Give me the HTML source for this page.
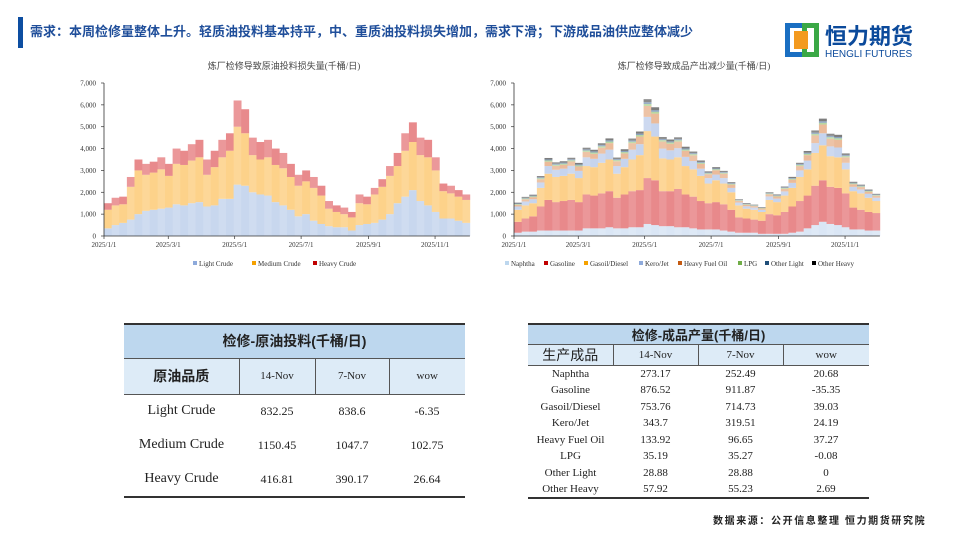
<!DOCTYPE html>
<html><head><meta charset="utf-8">
<style>
*{margin:0;padding:0;box-sizing:border-box}
body{width:960px;height:540px;background:#fff;position:relative;overflow:hidden;font-family:"Liberation Serif","Noto Serif CJK SC",serif}
.cjk{font-family:"Liberation Sans","Noto Sans CJK SC",sans-serif}
#bar{position:absolute;left:18px;top:17px;width:5px;height:31px;background:#0d4ea1}
#title{position:absolute;left:30px;top:21px;font-size:13px;font-weight:bold;color:#1f4e9a;white-space:nowrap}
#logo{position:absolute;left:785px;top:20px;width:150px;height:40px}
table{position:absolute;border-collapse:collapse;text-align:center;color:#222}
td{padding:0}
#t1{left:124px;top:323px;width:341px;border-top:2px solid #333;border-bottom:2px solid #333}
#t2{left:528px;top:323px;width:341px;border-top:2px solid #333;border-bottom:2px solid #333}
.h{background:#bdd7ee;font-weight:bold}
.s{background:#ddebf7}
#foot{position:absolute;left:713px;top:512px;font-size:10px;font-weight:bold;letter-spacing:1.6px;color:#222;white-space:nowrap}
svg text{font-family:"Liberation Serif","Noto Sans CJK SC",serif}
</style></head><body>
<div id="bar"></div>
<div id="title" class="cjk">需求：本周检修量整体上升。轻质油投料基本持平，中、重质油投料损失增加，需求下滑；下游成品油供应整体减少</div>
<svg id="logo" viewBox="0 0 150 40">
<rect x="0" y="3" width="34" height="34" fill="#1a6fc2"/>
<rect x="5" y="8" width="24" height="24" fill="#fff"/>
<rect x="17" y="3" width="17" height="34" fill="#3aa845"/>
<rect x="22" y="8" width="7" height="24" fill="#fff"/>
<rect x="9" y="11" width="14" height="18" fill="#f39a1f"/>
<text x="40" y="24" font-size="22" font-weight="bold" fill="#0b4a9b" style="font-family:'Noto Sans CJK SC',sans-serif">恒力期货</text>
<text x="40" y="37" font-size="10" fill="#0b4a9b" style="font-family:'Liberation Sans',sans-serif">HENGLI FUTURES</text>
</svg>
<svg id="c1" width="960" height="540" style="position:absolute;left:0;top:0"></svg>

<table id="t1">
<tr class="h" style="height:34px"><td colspan="4" class="cjk" style="font-size:14px">检修-原油投料(千桶/日)</td></tr>
<tr class="s" style="height:36px;border-top:1px solid #555;border-bottom:1px solid #555"><td class="cjk" style="width:115px;font-size:14px;font-weight:bold;border-right:1px solid #555">原油品质</td><td style="width:76px;font-size:11px;border-right:1px solid #555">14-Nov</td><td style="width:74px;font-size:11px;border-right:1px solid #555">7-Nov</td><td style="font-size:11px">wow</td></tr>
<tr style="height:34px"><td style="font-size:14px">Light Crude</td><td style="font-size:12px">832.25</td><td style="font-size:12px">838.6</td><td style="font-size:12px">-6.35</td></tr>
<tr style="height:34px"><td style="font-size:14px">Medium Crude</td><td style="font-size:12px">1150.45</td><td style="font-size:12px">1047.7</td><td style="font-size:12px">102.75</td></tr>
<tr style="height:35px"><td style="font-size:14px">Heavy Crude</td><td style="font-size:12px">416.81</td><td style="font-size:12px">390.17</td><td style="font-size:12px">26.64</td></tr>
</table>

<table id="t2">
<tr class="h" style="height:20px"><td colspan="4" class="cjk" style="font-size:13px">检修-成品产量(千桶/日)</td></tr>
<tr class="s" style="height:21px;border-top:1px solid #555;border-bottom:1px solid #555"><td class="cjk" style="width:85px;font-size:14px;border-right:1px solid #555">生产成品</td><td style="width:85px;font-size:11px;border-right:1px solid #555">14-Nov</td><td style="width:85px;font-size:11px;border-right:1px solid #555">7-Nov</td><td style="font-size:11px">wow</td></tr>
<tr style="height:16.5px;font-size:11px"><td>Naphtha</td><td>273.17</td><td>252.49</td><td>20.68</td></tr>
<tr style="height:16.5px;font-size:11px"><td>Gasoline</td><td>876.52</td><td>911.87</td><td>-35.35</td></tr>
<tr style="height:16.5px;font-size:11px"><td>Gasoil/Diesel</td><td>753.76</td><td>714.73</td><td>39.03</td></tr>
<tr style="height:16.5px;font-size:11px"><td>Kero/Jet</td><td>343.7</td><td>319.51</td><td>24.19</td></tr>
<tr style="height:16.5px;font-size:11px"><td>Heavy Fuel Oil</td><td>133.92</td><td>96.65</td><td>37.27</td></tr>
<tr style="height:16.5px;font-size:11px"><td>LPG</td><td>35.19</td><td>35.27</td><td>-0.08</td></tr>
<tr style="height:16.5px;font-size:11px"><td>Other Light</td><td>28.88</td><td>28.88</td><td>0</td></tr>
<tr style="height:16.5px;font-size:11px"><td>Other Heavy</td><td>57.92</td><td>55.23</td><td>2.69</td></tr>
</table>
<div id="foot" class="cjk">数据来源：公开信息整理 恒力期货研究院</div>

<script>
const yTicks=[0,1000,2000,3000,4000,5000,6000,7000];
const yTickLabels=["0","1,000","2,000","3,000","4,000","5,000","6,000","7,000"];
const xTickDays=[0,59,120,181,243,304];
const xTickLabels=["2025/1/1","2025/3/1","2025/5/1","2025/7/1","2025/9/1","2025/11/1"];
const weekDays=[0,7,14,21,28,35,42,49,56,63,70,77,84,91,98,105,112,119,126,133,140,147,154,161,168,175,182,189,196,203,210,217,224,231,238,245,252,259,266,273,280,287,294,301,308,315,322,329];
const lightCrude=[350,500,600,750,1000,1150,1200,1250,1300,1450,1400,1500,1550,1350,1400,1700,1700,2350,2300,2000,1900,1850,1550,1400,1200,900,1000,700,550,450,400,400,250,500,550,600,750,1000,1500,1800,2100,1600,1400,1100,800,800,700,600];
const mediumCrude=[850,900,850,1500,2000,1650,1700,1800,1450,1850,1850,1950,2050,1450,1750,1900,2200,2650,2400,1700,1600,1750,1700,1700,1500,1400,1500,1500,1300,800,700,600,600,1000,900,1300,1500,1750,1700,2100,2200,2100,2200,1900,1250,1150,1100,1050];
const heavyCrude=[300,350,350,450,500,500,500,550,550,700,650,750,800,700,750,800,800,1200,1100,800,800,800,750,700,600,500,500,500,450,350,300,300,250,400,350,300,350,450,600,800,900,800,800,600,350,350,300,250];
const naphtha=[150,200,200,250,250,250,250,250,250,350,350,350,400,350,350,400,400,550,500,450,450,400,400,350,300,300,300,250,200,150,150,150,100,100,100,100,150,200,350,500,650,550,500,400,300,300,250,250];
const gasoline=[500,600,700,1100,1400,1300,1350,1400,1300,1550,1500,1600,1650,1400,1550,1650,1700,2100,2050,1600,1600,1750,1500,1450,1300,1200,1250,1200,1000,700,650,600,600,900,850,1000,1200,1400,1500,1800,1900,1700,1700,1550,1000,900,850,800];
const gasoil=[550,600,600,850,1200,1150,1150,1200,1100,1300,1300,1400,1450,1100,1250,1450,1600,2150,2000,1500,1450,1450,1300,1250,1150,900,1000,950,800,550,450,450,400,650,600,750,850,1100,1200,1500,1600,1400,1400,1100,750,750,650,550];
const kero=[150,180,180,250,350,330,330,360,330,400,380,420,450,350,380,450,500,650,600,450,420,420,420,380,330,250,260,250,200,130,110,100,100,160,160,190,230,300,400,450,550,450,450,300,200,180,180,150];
const hfo=[80,100,100,150,200,180,180,200,200,250,230,270,300,220,250,300,350,500,450,320,300,300,280,260,220,180,200,200,150,80,70,70,60,100,100,120,150,200,250,350,400,350,350,250,120,110,100,90];
const lpg=[30,35,35,45,55,50,50,55,50,60,60,65,70,55,60,65,70,90,85,65,60,60,55,55,50,40,45,40,35,25,25,20,20,30,30,35,40,50,60,70,80,70,70,55,35,35,30,30];
const otherLight=[25,30,30,40,45,45,45,45,45,50,50,55,55,45,50,55,60,80,75,55,50,50,50,45,40,35,35,35,30,20,20,20,15,25,25,30,35,40,50,60,70,60,60,45,30,30,25,25];
const otherHeavy=[40,45,45,60,70,65,65,70,70,80,75,85,90,70,80,90,100,140,130,90,85,85,80,75,65,55,60,55,45,30,30,25,25,35,35,40,50,60,80,100,120,100,100,80,45,45,40,35];

const svg=document.getElementById('c1');
const NS='http://www.w3.org/2000/svg';
function mk(tag,attrs,parent){const e=document.createElementNS(NS,tag);for(const k in attrs)e.setAttribute(k,attrs[k]);(parent||svg).appendChild(e);return e;}

function drawChart(cfg){
  const y0=236,yTop=83,x0=cfg.x0,pxDay=1.089;
  const yS=v=>y0-(v/7000)*(y0-yTop);
  const xS=d=>x0+d*pxDay;
  const g=mk('g',{});
  
  
  const t=mk('text',{x:x0+180,y:69,'font-size':9,fill:'#444','text-anchor':'middle'},g);
  t.textContent=cfg.title;
  
  
  yTicks.forEach((v,i)=>{
    const l=mk('text',{x:x0-8,y:yS(v)+2.5,'font-size':7,fill:'#333','text-anchor':'end'},g);
    l.textContent=yTickLabels[i];
    
    
    mk('line',{x1:x0-3,x2:x0,y1:yS(v),y2:yS(v),stroke:'#333','stroke-width':0.7},g);
  });
  const bw=7*pxDay+0.3;
  weekDays.forEach((d,i)=>{
    let acc=0;
    cfg.series.forEach((s,k)=>{
      const v=s.data[i];
      const r=mk('rect',{x:xS(d),y:yS(acc+v),width:bw,height:yS(acc)-yS(acc+v),fill:s.color,opacity:(i%2?0.88:1)},g);
      
      
      acc+=v;
    });
  });
  mk('line',{x1:x0,x2:x0,y1:yTop,y2:y0,stroke:'#333','stroke-width':0.8},g);
  mk('line',{x1:x0,x2:xS(336),y1:y0,y2:y0,stroke:'#333','stroke-width':0.8},g);
  xTickDays.forEach((d,i)=>{
    mk('line',{x1:xS(d),x2:xS(d),y1:y0,y2:y0+3,stroke:'#333','stroke-width':0.7},g);
    const l=mk('text',{x:xS(d),y:y0+11,'font-size':7,fill:'#333','text-anchor':'middle'},g);
    l.textContent=xTickLabels[i];
    
    
  });
  let lx=cfg.legendX;
  cfg.series.forEach(s=>{
    const lg=mk('g',{},g);
    
    
    mk('rect',{x:lx,y:261,width:4,height:4,fill:s.legend},lg);
    const tx=mk('text',{x:lx+6,y:266,'font-size':7,fill:'#333'},lg);
    tx.textContent=s.label;
    lx+=s.lw;
  });
}
drawChart({name:'crude-loss-chart-plot',x0:104,title:'炼厂检修导致原油投料损失量(千桶/日)',legendX:193,series:[
  {key:'light-crude',label:'Light Crude',data:lightCrude,color:'#c8d7ee',legend:'#8eaadb',lw:59},
  {key:'medium-crude',label:'Medium Crude',data:mediumCrude,color:'#fdd28a',legend:'#f5a100',lw:61},
  {key:'heavy-crude',label:'Heavy Crude',data:heavyCrude,color:'#e88a8c',legend:'#c00000',lw:60}
]});
drawChart({name:'product-loss-chart-plot',x0:514,title:'炼厂检修导致成品产出减少量(千桶/日)',legendX:505,series:[
  {key:'naphtha',label:'Naphtha',data:naphtha,color:'#dae6f5',legend:'#bdd7ee',lw:39},
  {key:'gasoline',label:'Gasoline',data:gasoline,color:'#e8898b',legend:'#c00000',lw:40},
  {key:'gasoil',label:'Gasoil/Diesel',data:gasoil,color:'#fdd08a',legend:'#f5a100',lw:55},
  {key:'kero',label:'Kero/Jet',data:kero,color:'#c6d4ee',legend:'#8eaadb',lw:39},
  {key:'hfo',label:'Heavy Fuel Oil',data:hfo,color:'#ebbb9a',legend:'#c55a11',lw:60},
  {key:'lpg',label:'LPG',data:lpg,color:'#b7d7a0',legend:'#70ad47',lw:27},
  {key:'other-light',label:'Other Light',data:otherLight,color:'#8aa3c0',legend:'#1f4e79',lw:47},
  {key:'other-heavy',label:'Other Heavy',data:otherHeavy,color:'#7d7d7d',legend:'#000',lw:50}
]});
</script>
</body></html>
